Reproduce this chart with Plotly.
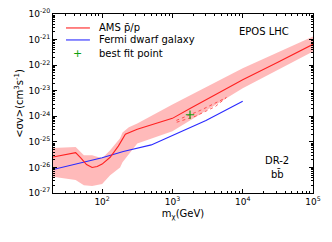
import plotly.graph_objects as go

# ---- data ----
ams_mass = [20, 42, 50, 60, 72, 85, 100, 130, 170, 214, 316, 562, 1000, 1780, 10000, 31600, 100000]
ams_sv = [2.57e-26, 3.8e-26, 2.3e-26, 1.3e-26, 1.0e-26, 1.08e-26, 1.35e-26, 2.5e-26, 6.8e-26,
          2.0e-25, 3.1e-25, 5.0e-25, 8.3e-25, 2.0e-24, 2.7e-23, 1.29e-22, 6.5e-22]

band_mass = [20, 42, 55, 72, 100, 130, 180, 195, 240, 316, 1000, 10000, 100000]
band_hi = [5.75e-26, 6.3e-26, 3.0e-26, 3.0e-26, 2.3e-26, 4.7e-26, 1.38e-25, 2.34e-25, 3.7e-25,
           5.2e-25, 2.9e-24, 7.6e-23, 1.32e-21]
band_lo = [4.3e-27, 3.2e-27, 2.0e-27, 1.86e-27, 2.24e-27, 5.0e-27, 1.0e-26, 1.6e-26, 3.5e-26,
           8.7e-26, 2.6e-25, 1.26e-23, 3.4e-22]

fermi_mass = [20, 100, 200, 500, 1000, 3000, 10000]
fermi_sv = [8.3e-27, 2.4e-26, 4.2e-26, 7.6e-26, 1.78e-25, 6.9e-25, 3.9e-24]

contour_mass = [1137, 2500, 5850, 4080, 2120, 1137]
contour_sv = [6.9e-25, 1.7e-24, 5.4e-24, 2.4e-24, 1.0e-24, 5.8e-25]

best_mass = [1780]
best_sv = [1.15e-24]

x_ticks = [100, 1000, 10000, 100000]
x_ticktext = ["10<sup>2</sup>", "10<sup>3</sup>", "10<sup>4</sup>", "10<sup>5</sup>"]
y_exps = [-27, -26, -25, -24, -23, -22, -21, -20]

legend_labels = ["AMS p\u0304/p", "Fermi dwarf galaxy", "best fit point"]

FONT = "DejaVu Sans"
RED = "#ff2020"
BLUE = "#2a2aff"
GREEN = "#10a010"

fig = go.Figure()

fig.add_trace(go.Scatter(
    x=band_mass + band_mass[::-1], y=band_hi + band_lo[::-1],
    fill="toself", fillcolor="rgba(255,90,90,0.42)", line=dict(width=0),
    mode="lines", hoverinfo="skip", showlegend=False))
fig.add_trace(go.Scatter(x=fermi_mass, y=fermi_sv, mode="lines",
                         line=dict(color=BLUE, width=1.1), showlegend=False))
fig.add_trace(go.Scatter(x=ams_mass, y=ams_sv, mode="lines",
                         line=dict(color=RED, width=1.1), showlegend=False))
fig.add_trace(go.Scatter(x=contour_mass, y=contour_sv, mode="lines",
                         line=dict(color=RED, width=0.7, dash="dot"), showlegend=False))
fig.add_trace(go.Scatter(x=best_mass, y=best_sv, mode="markers",
                         marker=dict(symbol="cross-thin", size=6, line=dict(color=GREEN, width=1.2)),
                         showlegend=False))

minor_x = [m * 10 ** k for k in range(1, 5) for m in range(2, 10) if m * 10 ** k >= 20]
minor_y = [m * 10.0 ** k for k in range(-27, -20) for m in range(2, 10)]

axis_common = dict(
    showline=True, linecolor="black", linewidth=1, mirror="allticks",
    ticks="inside", ticklen=4, tickwidth=1, tickcolor="black",
    showgrid=False, zeroline=False, automargin=False,
    ticklabeloverflow="allow",
    tickfont=dict(family=FONT, size=9, color="black"),
)

fig.update_xaxes(type="log", range=[1.301, 5], tickmode="array", tickvals=x_ticks,
                 ticktext=x_ticktext,
                 minor=dict(tickmode="array", tickvals=minor_x, ticks="inside", ticklen=2,
                            tickcolor="black", tickwidth=0.8, showgrid=False),
                 title=dict(text="m<sub>χ</sub>(GeV)", font=dict(family=FONT, size=10, color="black"),
                            standoff=4),
                 **axis_common)
fig.update_yaxes(type="log", range=[-27, -20], tickmode="array",
                 tickvals=[10.0 ** e for e in y_exps],
                 ticktext=["10<sup>%d</sup>" % e for e in y_exps],
                 minor=dict(tickmode="array", tickvals=minor_y, ticks="inside", ticklen=2,
                            tickcolor="black", tickwidth=0.8, showgrid=False),
                 title=dict(text="&lt;σv&gt;(cm<sup>3</sup>s<sup>-1</sup>)",
                            font=dict(family=FONT, size=10, color="black"), standoff=2),
                 **axis_common)

# manual legend (matplotlib-like compact layout)
rows_y = [0.922, 0.855, 0.782]
fig.add_shape(type="line", xref="paper", yref="paper", x0=0.05, x1=0.142, y0=rows_y[0], y1=rows_y[0],
              line=dict(color=RED, width=1.1))
fig.add_shape(type="line", xref="paper", yref="paper", x0=0.05, x1=0.142, y0=rows_y[1], y1=rows_y[1],
              line=dict(color=BLUE, width=1.1))
fig.add_annotation(xref="paper", yref="paper", x=0.096, y=rows_y[2], text="+", showarrow=False,
                   font=dict(family=FONT, size=11, color=GREEN), xanchor="center", yanchor="middle")
for lab, ry in zip(legend_labels, rows_y):
    fig.add_annotation(xref="paper", yref="paper", x=0.169, y=ry, text=lab, showarrow=False,
                       font=dict(family=FONT, size=10, color="black"), xanchor="left", yanchor="middle")

fig.add_annotation(xref="paper", yref="paper", x=0.812, y=0.905, text="EPOS LHC", showarrow=False,
                   font=dict(family=FONT, size=10, color="black"), xanchor="center", yanchor="middle")
fig.add_annotation(xref="paper", yref="paper", x=0.862, y=0.184, text="DR-2", showarrow=False,
                   font=dict(family=FONT, size=10, color="black"), xanchor="center", yanchor="middle")
fig.add_annotation(xref="paper", yref="paper", x=0.862, y=0.106, text="bb\u0304", showarrow=False,
                   font=dict(family=FONT, size=10, color="black"), xanchor="center", yanchor="middle")

fig.update_layout(
    width=332, height=242,
    margin=dict(l=53, r=19, t=14, b=49),
    paper_bgcolor="white", plot_bgcolor="white",
    showlegend=False,
    font=dict(family=FONT, size=10, color="black"),
)

fig.write_html("out.html", config={"displayModeBar": False},
               post_script="document.body.style.margin='0px';")
